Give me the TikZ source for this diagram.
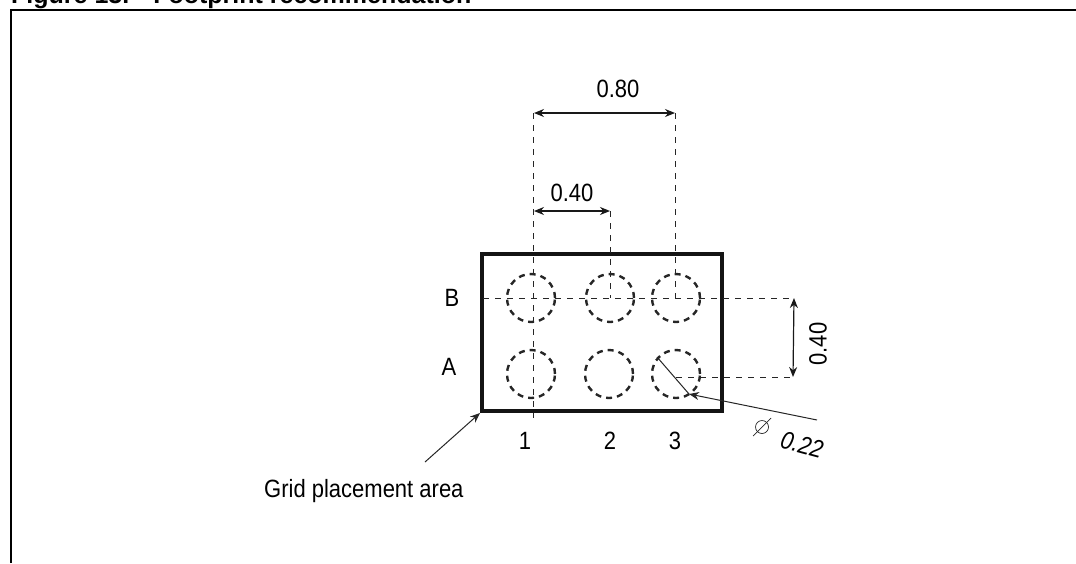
\documentclass[tikz,border=0pt]{standalone}
\usepackage{fontspec}
\setmainfont[FakeStretch=0.88]{Liberation Sans}
\newfontfamily\titlefont{Liberation Sans}
\usetikzlibrary{arrows.meta}
\tikzset{
  x=1pt,y=-1pt,
  frameline/.style={line width=2.6pt,black},
  boxline/.style={line width=3.8pt,black!92},
  dim/.style={line width=1pt,black!85,dash pattern=on 6pt off 6pt},
  ball/.style={circle,draw=black!85,line width=2.4pt,dash pattern=on 6pt off 5pt,minimum size=48pt,inner sep=0pt},
  ar/.style={line width=1.2pt,black!90,{Stealth[length=10pt,width=8pt]}-{Stealth[length=10pt,width=8pt]}},
  lead/.style={line width=1pt,black!85},
  lbl/.style={font=\fontsize{25}{27}\selectfont,inner sep=0pt,text=black},
  title/.style={font=\titlefont\fontsize{25}{27}\selectfont\bfseries,inner sep=0pt,anchor=base west}
}
\begin{document}
\begin{tikzpicture}
\useasboundingbox (0,0) rectangle (1076,563);
\node[title] (ttl) at (11,3) {Figure 13.\hspace{24pt}Footprint recommendation};
\coordinate (fbl) at (11,563);
\coordinate (ftl) at (11,10);
\coordinate (ftr) at (1076,10);
\draw[frameline] (fbl) -- (ftl) -- (ftr);
\node[ball] (b1) at (531,298) {};
\node[ball] (b2) at (610,298) {};
\node[ball] (b3) at (676,298) {};
\node[ball] (a1) at (531,374) {};
\node[ball] (a2) at (609,374) {};
\node[ball] (a3) at (676,374) {};
\coordinate (tl) at (482,254);
\coordinate (br) at (722,411);
\draw[boxline] (tl) rectangle (br);
\coordinate (d1) at (533,113);
\coordinate (d1b) at (533,418);
\coordinate (d2) at (610,211);
\coordinate (d3) at (675,113);
\coordinate (d6) at (794,298);
\coordinate (d7) at (792,377);
\draw[dim] (d1) -- (d1b);
\draw[dim] (d2) -- (610,298);
\draw[dim] (d3) -- (675,298);
\draw[dim] (483,298) -- (d6);
\draw[dim] (676,377) -- (d7);
\draw[ar] (534,113) -- (d3);
\node[lbl] (t80) at (618,89) {0.80};
\draw[ar] (534,211) -- (d2);
\node[lbl] (t40) at (572,193) {0.40};
\draw[ar] (d6) -- (793,377);
\node[lbl,rotate=90] (t40c) at (818,344) {0.40};
\node[lbl] (tB) at (452,298) {B};
\node[lbl] (tA) at (449,367) {A};
\node[lbl] (t1) at (525,441) {1};
\node[lbl] (t2) at (610,441) {2};
\node[lbl] (t3) at (675,441) {3};
\coordinate (g0) at (425,462);
\draw[lead,-{Stealth[length=10pt,width=8pt]}] (g0) -- (480,413);
\node[lbl,anchor=base west] (grid) at (264,497) {Grid placement area};
\coordinate (ldr) at (657,357);
\coordinate (ldr2) at (689,394);
\coordinate (ldr3) at (817,420);
\draw[lead] (ldr) -- (ldr2);
\draw[lead,-{Stealth[length=10pt,width=8pt]}] (ldr3) -- (ldr2);
\node[circle,draw=black!85,line width=.7pt,minimum size=13pt,inner sep=0pt] (phi) at (762,427) {};
\draw[line width=.7pt,black!85] (753,436) -- (771,418);
\node[lbl,rotate=-15,font=\fontsize{25}{27}\selectfont\itshape] (dia) at (802,445) {0.22};
\end{tikzpicture}
\end{document}
